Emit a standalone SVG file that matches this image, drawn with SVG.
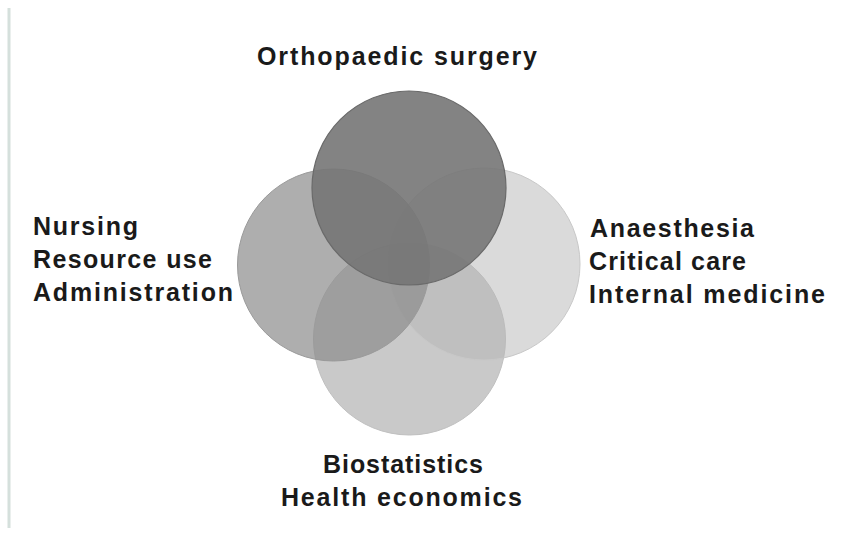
<svg xmlns="http://www.w3.org/2000/svg" width="853" height="535" viewBox="0 0 853 535">
  <style>
    .lbl { font-family: "Liberation Sans", Arial, sans-serif; font-weight: bold; font-size: 25px; fill: #1a1a1a; }
    .mid { text-anchor: middle; }
  </style>
  <rect x="0" y="0" width="853" height="535" fill="#ffffff"/>
  <line x1="9" y1="8" x2="9" y2="528" stroke="#d5e0dc" stroke-width="3"/>
  <g id="bottom">
    <circle cx="409.5" cy="339" r="96" fill="#c9c9c9" stroke="#c0c0c0" stroke-width="1"/>
    <text class="lbl mid" x="403" y="473" textLength="160" lengthAdjust="spacing">Biostatistics</text>
    <text class="lbl mid" x="401.5" y="506" textLength="241" lengthAdjust="spacing">Health economics</text>
  </g>
  <g id="right">
    <circle cx="484" cy="264" r="96" fill="#b5b5b5" fill-opacity="0.5" stroke="#c8c8c8" stroke-width="1"/>
    <text class="lbl" x="590" y="237" textLength="164" lengthAdjust="spacing">Anaesthesia</text>
    <text class="lbl" x="589" y="270" textLength="157" lengthAdjust="spacing">Critical care</text>
    <text class="lbl" x="589" y="303" textLength="236" lengthAdjust="spacing">Internal medicine</text>
  </g>
  <g id="left">
    <circle cx="333.5" cy="265" r="96" fill="#8b8b8b" fill-opacity="0.7" stroke="#9a9a9a" stroke-width="1"/>
    <text class="lbl" x="33" y="235" textLength="105" lengthAdjust="spacing">Nursing</text>
    <text class="lbl" x="33" y="268" textLength="179" lengthAdjust="spacing">Resource use</text>
    <text class="lbl" x="33" y="301" textLength="200" lengthAdjust="spacing">Administration</text>
  </g>
  <g id="top">
    <circle cx="409" cy="188" r="97" fill="#767676" fill-opacity="0.9" stroke="#6a6a6a" stroke-width="1.2"/>
    <text class="lbl mid" x="397" y="65" textLength="280" lengthAdjust="spacing">Orthopaedic surgery</text>
  </g>
  <g id="connectors"/>
</svg>
